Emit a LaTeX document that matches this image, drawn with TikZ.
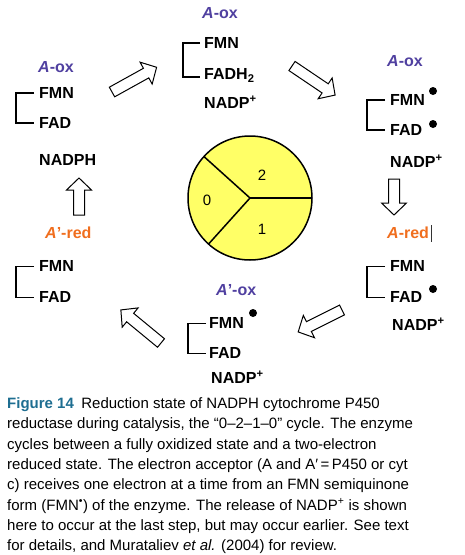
\documentclass[tikz,border=0pt]{standalone}
\usepackage{fontspec}
\setmainfont{Liberation Sans}
\definecolor{aox}{RGB}{80,64,160}
\definecolor{ared}{RGB}{240,110,30}
\definecolor{figblue}{RGB}{30,110,145}
\definecolor{diskyellow}{RGB}{255,255,102}
\tikzset{
  lbl/.style={font=\fontsize{16}{18}\selectfont\bfseries, inner sep=0, anchor=base west},
  oxlbl/.style={lbl, text=aox},
  redlbl/.style={lbl, text=ared},
  brk/.style={line width=1.6pt},
  edot/.style={fill=black, circle, inner sep=0, minimum size=8pt},
  arrline/.style={draw=black, line width=1pt, fill=white, line join=miter},
  digit/.style={font=\fontsize{15}{17}\selectfont, inner sep=0}
}
% hollow block arrow: tail coordinate, angle, length
\newcommand\hollowarr[3]{%
  \begin{scope}[shift={(#1)}, rotate=#2]
    \draw[arrline] (0,-5.5) -- (#3-12,-5.5) -- (#3-12,-12.5) -- (#3,0)
      -- (#3-12,12.5) -- (#3-12,5.5) -- (0,5.5) -- cycle;
  \end{scope}}
\begin{document}
\begin{tikzpicture}[x=1pt,y=-1pt]
\useasboundingbox (0,0) rectangle (464,555);

% central disk
\node[circle, draw, line width=1.5pt, fill=diskyellow, minimum size=124pt, inner sep=0] (disk) at (250,198) {};
\coordinate (dc) at (250,198);
\draw[line width=1.5pt] (dc) -- (312,198);
\draw[line width=1.5pt] (dc) -- (203.9,156.5);
\draw[line width=1.5pt] (dc) -- (208.5,244.1);
\node[digit] (d2) at (262,175) {2};
\node[digit] (d0) at (207,200) {0};
\node[digit] (d1) at (262,229) {1};

% top-left state
\node[oxlbl] (oxA) at (38,72.8) {\textit{A}-ox};
\node[lbl] (fmnA) at (39,98.8) {FMN};
\node[lbl] (fadA) at (39,128.8) {FAD};
\node[lbl] (nadphA) at (39,165.8) {NADPH};
\draw[brk] ([xshift=-5pt]fmnA.west) -- ++(-18,0) |- ([xshift=-5pt]fadA.west);

% top-center state
\node[oxlbl] (oxB) at (202,18.8) {\textit{A}-ox};
\node[lbl] (fmnB) at (204,48.8) {FMN};
\node[lbl] (fadB) at (204,79.8) {FADH\textsubscript{2}};
\node[lbl] (nadpB) at (204,108.8) {NADP\textsuperscript{+}};
\draw[brk] ([xshift=-4pt]fmnB.west) -- ++(-17,0) |- ([xshift=-4pt,yshift=-1.5pt]fadB.west);

% top-right state
\node[oxlbl] (oxC) at (387,66.8) {\textit{A}-ox};
\node[lbl] (fmnC) at (390,105.8) {FMN};
\node[lbl] (fadC) at (390,135.8) {FAD};
\node[lbl] (nadpC) at (390,167.8) {NADP\textsuperscript{+}};
\node[edot] (dotC1) at (433,91) {};
\node[edot] (dotC2) at (433,124) {};
\draw[brk] ([xshift=-5pt]fmnC.west) -- ++(-18,0) |- ([xshift=-5pt]fadC.west);

% right-middle state
\node[redlbl] (redD) at (387,238.8) {\textit{A}-red};
\draw[line width=0.6pt, black!80] (431,225) -- (431,242);
\node[lbl] (fmnD) at (390,271.8) {FMN};
\node[lbl] (fadD) at (390,302.8) {FAD};
\node[lbl] (nadpD) at (392,330.8) {NADP\textsuperscript{+}};
\node[edot] (dotD) at (433,289) {};
\draw[brk] ([xshift=-5pt]fmnD.west) -- ++(-18,0) |- ([xshift=-5pt]fadD.west);

% bottom-center state
\node[oxlbl] (oxE) at (216,295.8) {\textit{A}’-ox};
\node[lbl] (fmnE) at (209,328.8) {FMN};
\node[lbl] (fadE) at (209,358.8) {FAD};
\node[lbl] (nadpE) at (211,383.8) {NADP\textsuperscript{+}};
\node[edot] (dotE) at (253,313) {};
\draw[brk] ([xshift=-3pt]fmnE.west) -- ++(-18,0) |- ([xshift=-3pt]fadE.west);

% bottom-left state
\node[redlbl] (redF) at (45,238.8) {\textit{A}’-red};
\node[lbl] (fmnF) at (39,271.8) {FMN};
\node[lbl] (fadF) at (39,302.8) {FAD};
\draw[brk] ([xshift=-5pt]fmnF.west) -- ++(-18,0) |- ([xshift=-5pt]fadF.west);

% hollow block arrows
\hollowarr{112,92}{29}{51}
\hollowarr{292,66}{-34}{52}
\hollowarr{394,179}{-90}{36}
\hollowarr{342,310}{206.6}{49}
\hollowarr{161,343}{140.5}{52}
\hollowarr{79,215}{90}{37}

% caption
\node[anchor=north west, inner sep=0, align=left, font=\fontsize{15}{20.3}\selectfont] (cap) at (7,397.5)
{{\bfseries\color{figblue}Figure 14}\enspace Reduction state of NADPH cytochrome P450\\
reductase during catalysis, the “0–2–1–0” cycle. The enzyme\\
cycles between a fully oxidized state and a two-electron\\
reduced state. The electron acceptor (A and A′\,=\,P450 or cyt\\
c) receives one electron at a time from an FMN semiquinone\\
form (FMN\textsuperscript{•}) of the enzyme. The release of NADP\textsuperscript{+} is shown\\
here to occur at the last step, but may occur earlier. See text\\
for details, and Murataliev \textit{et al.} (2004) for review.};
\end{tikzpicture}
\end{document}
